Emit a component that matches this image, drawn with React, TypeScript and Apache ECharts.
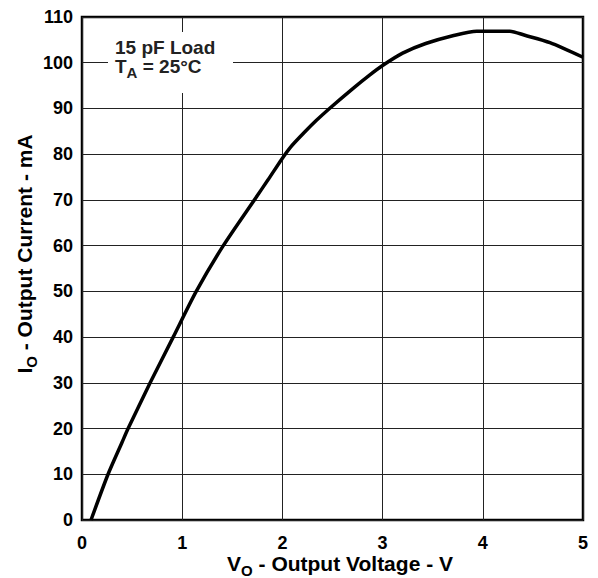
import React, { useEffect, useRef } from "react";
import * as echarts from "echarts";

const voltage = [0.09, 0.26, 0.4, 0.46, 0.68, 0.91, 1.14, 1.41, 1.72, 1.86, 1.99, 2.08, 2.23, 2.34, 2.47, 2.7, 2.87, 3.0, 3.2, 3.43, 3.7, 3.94, 4.27, 4.42, 4.67, 5.0];
const current = [0, 10, 17, 20, 30, 40, 50, 60, 70, 74.5, 78.8, 81.5, 85, 87.4, 90, 94.3, 97.3, 99.4, 102.1, 104.2, 105.9, 106.9, 106.9, 106, 104.4, 101.2];
const xTicks = [0, 1, 2, 3, 4, 5];
const yTicks = [0, 10, 20, 30, 40, 50, 60, 70, 80, 90, 100, 110];
const noteLine1 = "15 pF Load";
const noteLine2 = ["T", "A", " = 25°C"];
const xTitle = ["V", "O", " - Output Voltage - V"];
const yTitle = ["I", "O", " - Output Current - mA"];

const FONT = "Arial, Liberation Sans, sans-serif";

export default function App() {
  const ref = useRef<HTMLDivElement>(null);
  useEffect(() => {
    if (!ref.current) return;
    const chart = echarts.init(ref.current, null, { renderer: "svg" });
    const data = voltage.map((v, i) => [v, current[i]]);
    const titleRich = {
      a: { fontSize: 21, fontWeight: "bold", fontFamily: FONT, fill: "#000", lineHeight: 30, verticalAlign: "middle" },
      sub: { fontSize: 15, fontWeight: "bold", fontFamily: FONT, fill: "#000", lineHeight: 30, verticalAlign: "bottom" },
    };
    const mk = (p: string[]) => "{a|" + p[0] + "}{sub|" + p[1] + "}{a|" + p[2] + "}";
    chart.setOption({
      animation: false,
      grid: { left: 82, right: 15, top: 17, bottom: 58, show: true, borderColor: "#000", borderWidth: 2.5, backgroundColor: "transparent" },
      xAxis: {
        type: "value",
        min: xTicks[0],
        max: xTicks[xTicks.length - 1],
        interval: 1,
        axisLine: { show: false },
        axisTick: { show: false },
        axisLabel: { fontSize: 18, fontWeight: "bold", fontFamily: FONT, color: "#000", margin: 14 },
        splitLine: { show: true, lineStyle: { color: "#222", width: 1 } },
      },
      yAxis: {
        type: "value",
        min: yTicks[0],
        max: yTicks[yTicks.length - 1],
        interval: 10,
        axisLine: { show: false },
        axisTick: { show: false },
        axisLabel: { fontSize: 18, fontWeight: "bold", fontFamily: FONT, color: "#000", margin: 9 },
        splitLine: { show: true, lineStyle: { color: "#222", width: 1 } },
      },
      graphic: [
        {
          type: "text",
          x: 340,
          y: 563,
          style: { text: mk(xTitle), rich: titleRich, align: "center", verticalAlign: "middle" },
        },
        {
          type: "text",
          x: 24,
          y: 254,
          rotation: Math.PI / 2,
          style: { text: mk(yTitle), rich: titleRich, align: "center", verticalAlign: "middle" },
        },
        { type: "rect", left: 108, top: 32, shape: { width: 125, height: 61 }, style: { fill: "#fff" }, z: 10 },
        {
          type: "text",
          left: 115,
          top: 38,
          z: 11,
          style: {
            text: "{a|" + noteLine1 + "}",
            rich: { a: { fontSize: 19, fontWeight: "bold", fontFamily: FONT, fill: "#222", lineHeight: 19 } },
          },
        },
        {
          type: "text",
          left: 115,
          top: 57,
          z: 11,
          style: {
            text: mk(noteLine2),
            rich: {
              a: { fontSize: 19, fontWeight: "bold", fontFamily: FONT, fill: "#222", lineHeight: 26, verticalAlign: "middle" },
              sub: { fontSize: 15, fontWeight: "bold", fontFamily: FONT, fill: "#222", lineHeight: 26, verticalAlign: "bottom" },
            },
          },
        },
      ],
      series: [
        {
          type: "line",
          data,
          smooth: 0.25,
          showSymbol: false,
          lineStyle: { color: "#000", width: 3.5 },
          z: 5,
        },
      ],
    });
    return () => chart.dispose();
  }, []);
  return <div ref={ref} style={{ width: 598, height: 578, position: "absolute", left: 0, top: 0 }} />;
}
